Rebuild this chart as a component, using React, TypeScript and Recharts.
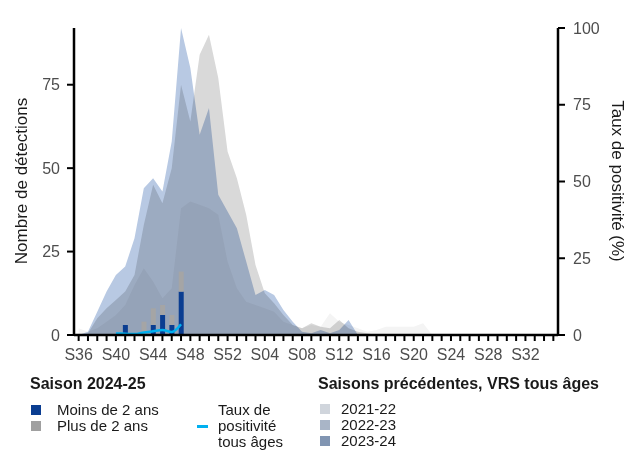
import React from 'react';
import { Area, Bar, ComposedChart, Line, XAxis, YAxis } from 'recharts';

// Semaines de la saison (S36 -> S35)
const WEEKS = [
  'S36', 'S37', 'S38', 'S39', 'S40', 'S41', 'S42', 'S43', 'S44', 'S45', 'S46', 'S47', 'S48', 'S49', 'S50', 'S51', 'S52',
  'S01', 'S02', 'S03', 'S04', 'S05', 'S06', 'S07', 'S08', 'S09', 'S10', 'S11', 'S12', 'S13', 'S14', 'S15', 'S16', 'S17',
  'S18', 'S19', 'S20', 'S21', 'S22', 'S23', 'S24', 'S25', 'S26', 'S27', 'S28', 'S29', 'S30', 'S31', 'S32', 'S33', 'S34', 'S35',
];

const X_TICK_LABELS = ['S36', 'S40', 'S44', 'S48', 'S52', 'S04', 'S08', 'S12', 'S16', 'S20', 'S24', 'S28', 'S32'];

// Saisons précédentes, VRS tous âges (nombre de détections)
const SAISON_2021_22 = [
  2, 1, 2, 4, 6, 9, 15, 20, 16, 11, 14, 38, 40, 39, 38, 36, 22,
  14, 10, 9, 8, 7, 4, 3, 2, 3, 2.5, 6.5, 4, 3, 2, 1, 1.5, 2.5, 2.5, 2.5, 2.5, 3.5, 0,
  0, 0, 0, 0, 0, 0, 0, 0, 0, 0, 0, 0, 0,
];
const SAISON_2022_23 = [
  0, 0.5, 5, 8, 10.5, 13, 18, 33, 45, 39.5, 50, 75, 64, 84, 90, 77, 55,
  47, 36, 21, 12.5, 9.5, 6, 3, 2, 3.5, 2.5, 2, 4.5, 2, 1, 0.5,
  0, 0, 0, 0, 0, 0, 0, 0, 0, 0, 0, 0, 0, 0, 0, 0, 0, 0, 0, 0,
];
const SAISON_2023_24 = [
  0, 1, 7, 13, 18, 20.5, 29, 44, 47, 43, 58, 92, 80, 60, 68, 42, 37,
  32, 22, 12, 13.5, 12, 7.5, 4, 1, 0.5, 1.5, 0.5, 1.5, 4.5,
  0, 0, 0, 0, 0, 0, 0, 0, 0, 0, 0, 0, 0, 0, 0, 0, 0, 0, 0, 0, 0, 0,
];

// Saison 2024-25 (S36 -> S47)
const MOINS_2_ANS = [0, 0, 0, 0, 0, 3, 0, 0, 3, 6, 3, 13];
const PLUS_2_ANS = [0, 0, 0, 0, 0, 0, 0, 4, 5, 3, 3, 6];
const TAUX_POSITIVITE = [null, null, null, null, 0.5, 0.4, 0.3, 0.8, 1.2, 1.6, 1.0, 3.5];

const data = WEEKS.map((week, i) => ({
  week,
  s2122: SAISON_2021_22[i],
  s2223: SAISON_2022_23[i],
  s2324: SAISON_2023_24[i],
  moins2: MOINS_2_ANS[i] ?? null,
  plus2: PLUS_2_ANS[i] ?? null,
  taux: TAUX_POSITIVITE[i] ?? null,
}));

const AXIS = '#000';
const TICK_TEXT = '#4d4d4d';

function XTick(props: any) {
  const { x, y, payload } = props;
  if (!X_TICK_LABELS.includes(payload.value)) return <g />;
  return (
    <text x={x} y={y} dy={17} textAnchor="middle" fill={TICK_TEXT} fontSize={16}>
      {payload.value}
    </text>
  );
}

const text = (left: number, top: number, extra: React.CSSProperties = {}): React.CSSProperties => ({
  position: 'absolute',
  left,
  top,
  fontSize: 15,
  lineHeight: '15px',
  whiteSpace: 'nowrap',
  color: '#1a1a1a',
  ...extra,
});

const swatch = (left: number, top: number, color: string): React.CSSProperties => ({
  position: 'absolute',
  left,
  top,
  width: 10,
  height: 10,
  background: color,
});

export default function App() {
  return (
    <div
      style={{
        position: 'absolute',
        left: 0,
        top: 0,
        width: 638,
        height: 450,
        overflow: 'hidden',
        background: '#fff',
        fontFamily: '"Liberation Sans", Arial, sans-serif',
      }}
    >
      <style>{`.blend { mix-blend-mode: multiply; }`}</style>
      <ComposedChart
        width={638}
        height={370}
        data={data}
        margin={{ top: 28, right: 0, bottom: 0, left: 0 }}
        barCategoryGap="25%"
      >
        <XAxis
          dataKey="week"
          interval={0}
          height={35}
          tickSize={6}
          tickMargin={2}
          tick={(p: any) => <XTick {...p} />}
          tickLine={{ stroke: AXIS, strokeWidth: 2 }}
          axisLine={{ stroke: AXIS, strokeWidth: 2.5 }}
        />
        <YAxis
          yAxisId="left"
          domain={[0, 92]}
          ticks={[0, 25, 50, 75]}
          width={74}
          tickSize={7}
          tickMargin={7}
          tick={{ fill: TICK_TEXT, fontSize: 16 }}
          tickLine={{ stroke: AXIS, strokeWidth: 2 }}
          axisLine={{ stroke: AXIS, strokeWidth: 2.5 }}
        />
        <YAxis
          yAxisId="right"
          orientation="right"
          domain={[0, 100]}
          ticks={[0, 25, 50, 75, 100]}
          width={80}
          tickSize={7}
          tickMargin={8}
          tick={{ fill: TICK_TEXT, fontSize: 16 }}
          tickLine={{ stroke: AXIS, strokeWidth: 2 }}
          axisLine={{ stroke: AXIS, strokeWidth: 2.5 }}
        />
        <Area
          yAxisId="left"
          type="linear"
          dataKey="s2122"
          className="blend"
          stroke="none"
          fill="#f4f4f4"
          fillOpacity={1}
          isAnimationActive={false}
        />
        <Area
          yAxisId="left"
          type="linear"
          dataKey="s2223"
          className="blend"
          stroke="none"
          fill="#d9d9d9"
          fillOpacity={1}
          isAnimationActive={false}
        />
        <Area
          yAxisId="left"
          type="linear"
          dataKey="s2324"
          className="blend"
          stroke="none"
          fill="#b8c9e3"
          fillOpacity={1}
          isAnimationActive={false}
        />
        <Bar yAxisId="left" dataKey="moins2" stackId="age" fill="#0a3d91" isAnimationActive={false} />
        <Bar yAxisId="left" dataKey="plus2" stackId="age" fill="#a5a5a5" isAnimationActive={false} />
        <Line
          yAxisId="right"
          type="monotone"
          dataKey="taux"
          stroke="#00b0f0"
          strokeWidth={2.5}
          dot={false}
          isAnimationActive={false}
        />
      </ComposedChart>

      {/* titres des axes */}
      <div style={text(22, 181, { fontSize: 17, lineHeight: '18px', transform: 'translate(-50%, -50%) rotate(-90deg)' })}>
        Nombre de détections
      </div>
      <div style={text(617, 181, { fontSize: 17, lineHeight: '18px', transform: 'translate(-50%, -50%) rotate(90deg)' })}>
        Taux de positivité (%)
      </div>

      {/* légende : saison en cours */}
      <div style={text(30, 375, { fontWeight: 'bold', fontSize: 16, lineHeight: '17px' })}>Saison 2024-25</div>
      <div style={swatch(31, 405, '#0a3d91')} />
      <div style={text(57, 402)}>Moins de 2 ans</div>
      <div style={swatch(31, 421, '#a0a0a0')} />
      <div style={text(57, 418)}>Plus de 2 ans</div>
      <div style={{ position: 'absolute', left: 197, top: 425, width: 11, height: 3, background: '#00b0f0' }} />
      <div style={text(218, 402)}>Taux de</div>
      <div style={text(218, 418)}>positivité</div>
      <div style={text(218, 434)}>tous âges</div>

      {/* légende : saisons précédentes */}
      <div style={text(318, 375, { fontWeight: 'bold', fontSize: 16, lineHeight: '17px' })}>
        Saisons précédentes, VRS tous âges
      </div>
      <div style={swatch(320, 404, '#d0d5dc')} />
      <div style={text(341, 401)}>2021-22</div>
      <div style={swatch(320, 420, '#a9b5c7')} />
      <div style={text(341, 417)}>2022-23</div>
      <div style={swatch(320, 436, '#8195b2')} />
      <div style={text(341, 433)}>2023-24</div>
    </div>
  );
}
